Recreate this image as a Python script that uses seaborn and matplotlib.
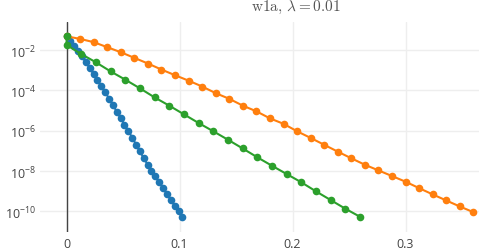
"""
Convergence plot: suboptimality vs. x for three methods on w1a (lambda = 0.01).
"""
import numpy as np
import pandas as pd
import matplotlib
matplotlib.use("Agg")
import matplotlib.pyplot as plt
import matplotlib.ticker as mticker
import seaborn as sns

# ─────────────────────────────────────────────
# Data (log10 of values)
# ─────────────────────────────────────────────
blue_x_step = 0.1025 / 30
blue_log = [-1.32, -1.55, -1.80, -2.05, -2.32, -2.60, -2.89, -3.19, -3.49, -3.79,
            -4.08, -4.41, -4.73, -5.05, -5.37, -5.70, -6.02, -6.34, -6.69, -7.03,
            -7.36, -7.68, -7.98, -8.27, -8.56, -8.85, -9.14, -9.44, -9.72, -10.00,
            -10.30]

orange_x_step = 0.36 / 30
orange_log = [-1.32, -1.45, -1.61, -1.86, -2.11, -2.39, -2.67, -2.97, -3.25, -3.52,
              -3.81, -4.14, -4.42, -4.76, -5.04, -5.39, -5.66, -6.03, -6.36, -6.70,
              -7.04, -7.37, -7.69, -7.97, -8.25, -8.53, -8.85, -9.16, -9.46, -9.76,
              -10.04]

green_x_step = 0.2597 / 20
green_log = [-1.32, -1.75, -2.20, -2.61, -3.06, -3.47, -3.90, -4.35, -4.76, -5.19,
             -5.62, -6.03, -6.45, -6.88, -7.32, -7.74, -8.15, -8.56, -9.01, -9.44,
             -9.87, -10.27]

blue_x = [i * blue_x_step for i in range(len(blue_log))]
orange_x = [i * orange_x_step for i in range(len(orange_log))]
# green: first two iterates both sit at x = 0
green_x = [0.0] + [i * green_x_step for i in range(len(green_log) - 1)]

series = [("blue", blue_x, blue_log), ("orange", orange_x, orange_log),
          ("green", green_x, green_log)]
df = pd.concat([
    pd.DataFrame({"x": xs, "y": np.power(10.0, ys), "method": name})
    for name, xs, ys in series
], ignore_index=True)

PALETTE = {"blue": "#1f77b4", "orange": "#ff7f0e", "green": "#2ca02c"}

# ─────────────────────────────────────────────
# Style
# ─────────────────────────────────────────────
sns.set_theme(style="white")
plt.rcParams["font.family"] = ["Open Sans", "DejaVu Sans"]

fig = plt.figure(figsize=(4.79, 2.51), dpi=100)
ax = fig.add_axes([40 / 479, (251 - 232.7) / 251, 1 - 40 / 479, (232.7 - 23.3) / 251])

sns.lineplot(data=df, x="x", y="y", hue="method", palette=PALETTE,
             estimator=None, sort=False, marker="o", markersize=5.5,
             markeredgewidth=0, linewidth=1.5, legend=False, ax=ax)

ax.set_yscale("log")
ax.set_xlim(-0.0235, 0.365)
ax.set_ylim(10 ** -11.01, 10 ** -0.626)

ax.set_xticks([0, 0.1, 0.2, 0.3])
ax.set_xticklabels(["0", "0.1", "0.2", "0.3"])
ax.set_yticks([1e-2, 1e-4, 1e-6, 1e-8, 1e-10])
ax.yaxis.set_major_formatter(mticker.LogFormatterMathtext())
ax.yaxis.set_minor_locator(mticker.NullLocator())

ax.grid(True, color="#eeeeee", linewidth=1)
ax.set_axisbelow(True)
ax.axvline(0, color="#444444", linewidth=1, zorder=1)
for s in ax.spines.values():
    s.set_visible(False)
ax.tick_params(axis="both", length=0, colors="#444444", labelsize=9)
ax.tick_params(axis="x", pad=4)
ax.tick_params(axis="y", pad=3)
ax.set_xlabel("")
ax.set_ylabel("")

fig.text(295.5 / 479, 1 - 7.5 / 251, r"$\mathrm{w1a},\,\lambda = 0.01$",
         ha="center", va="center", fontsize=11, color="#555555",
         math_fontfamily="cm")

fig.savefig("out.png", dpi=100, facecolor="white")
